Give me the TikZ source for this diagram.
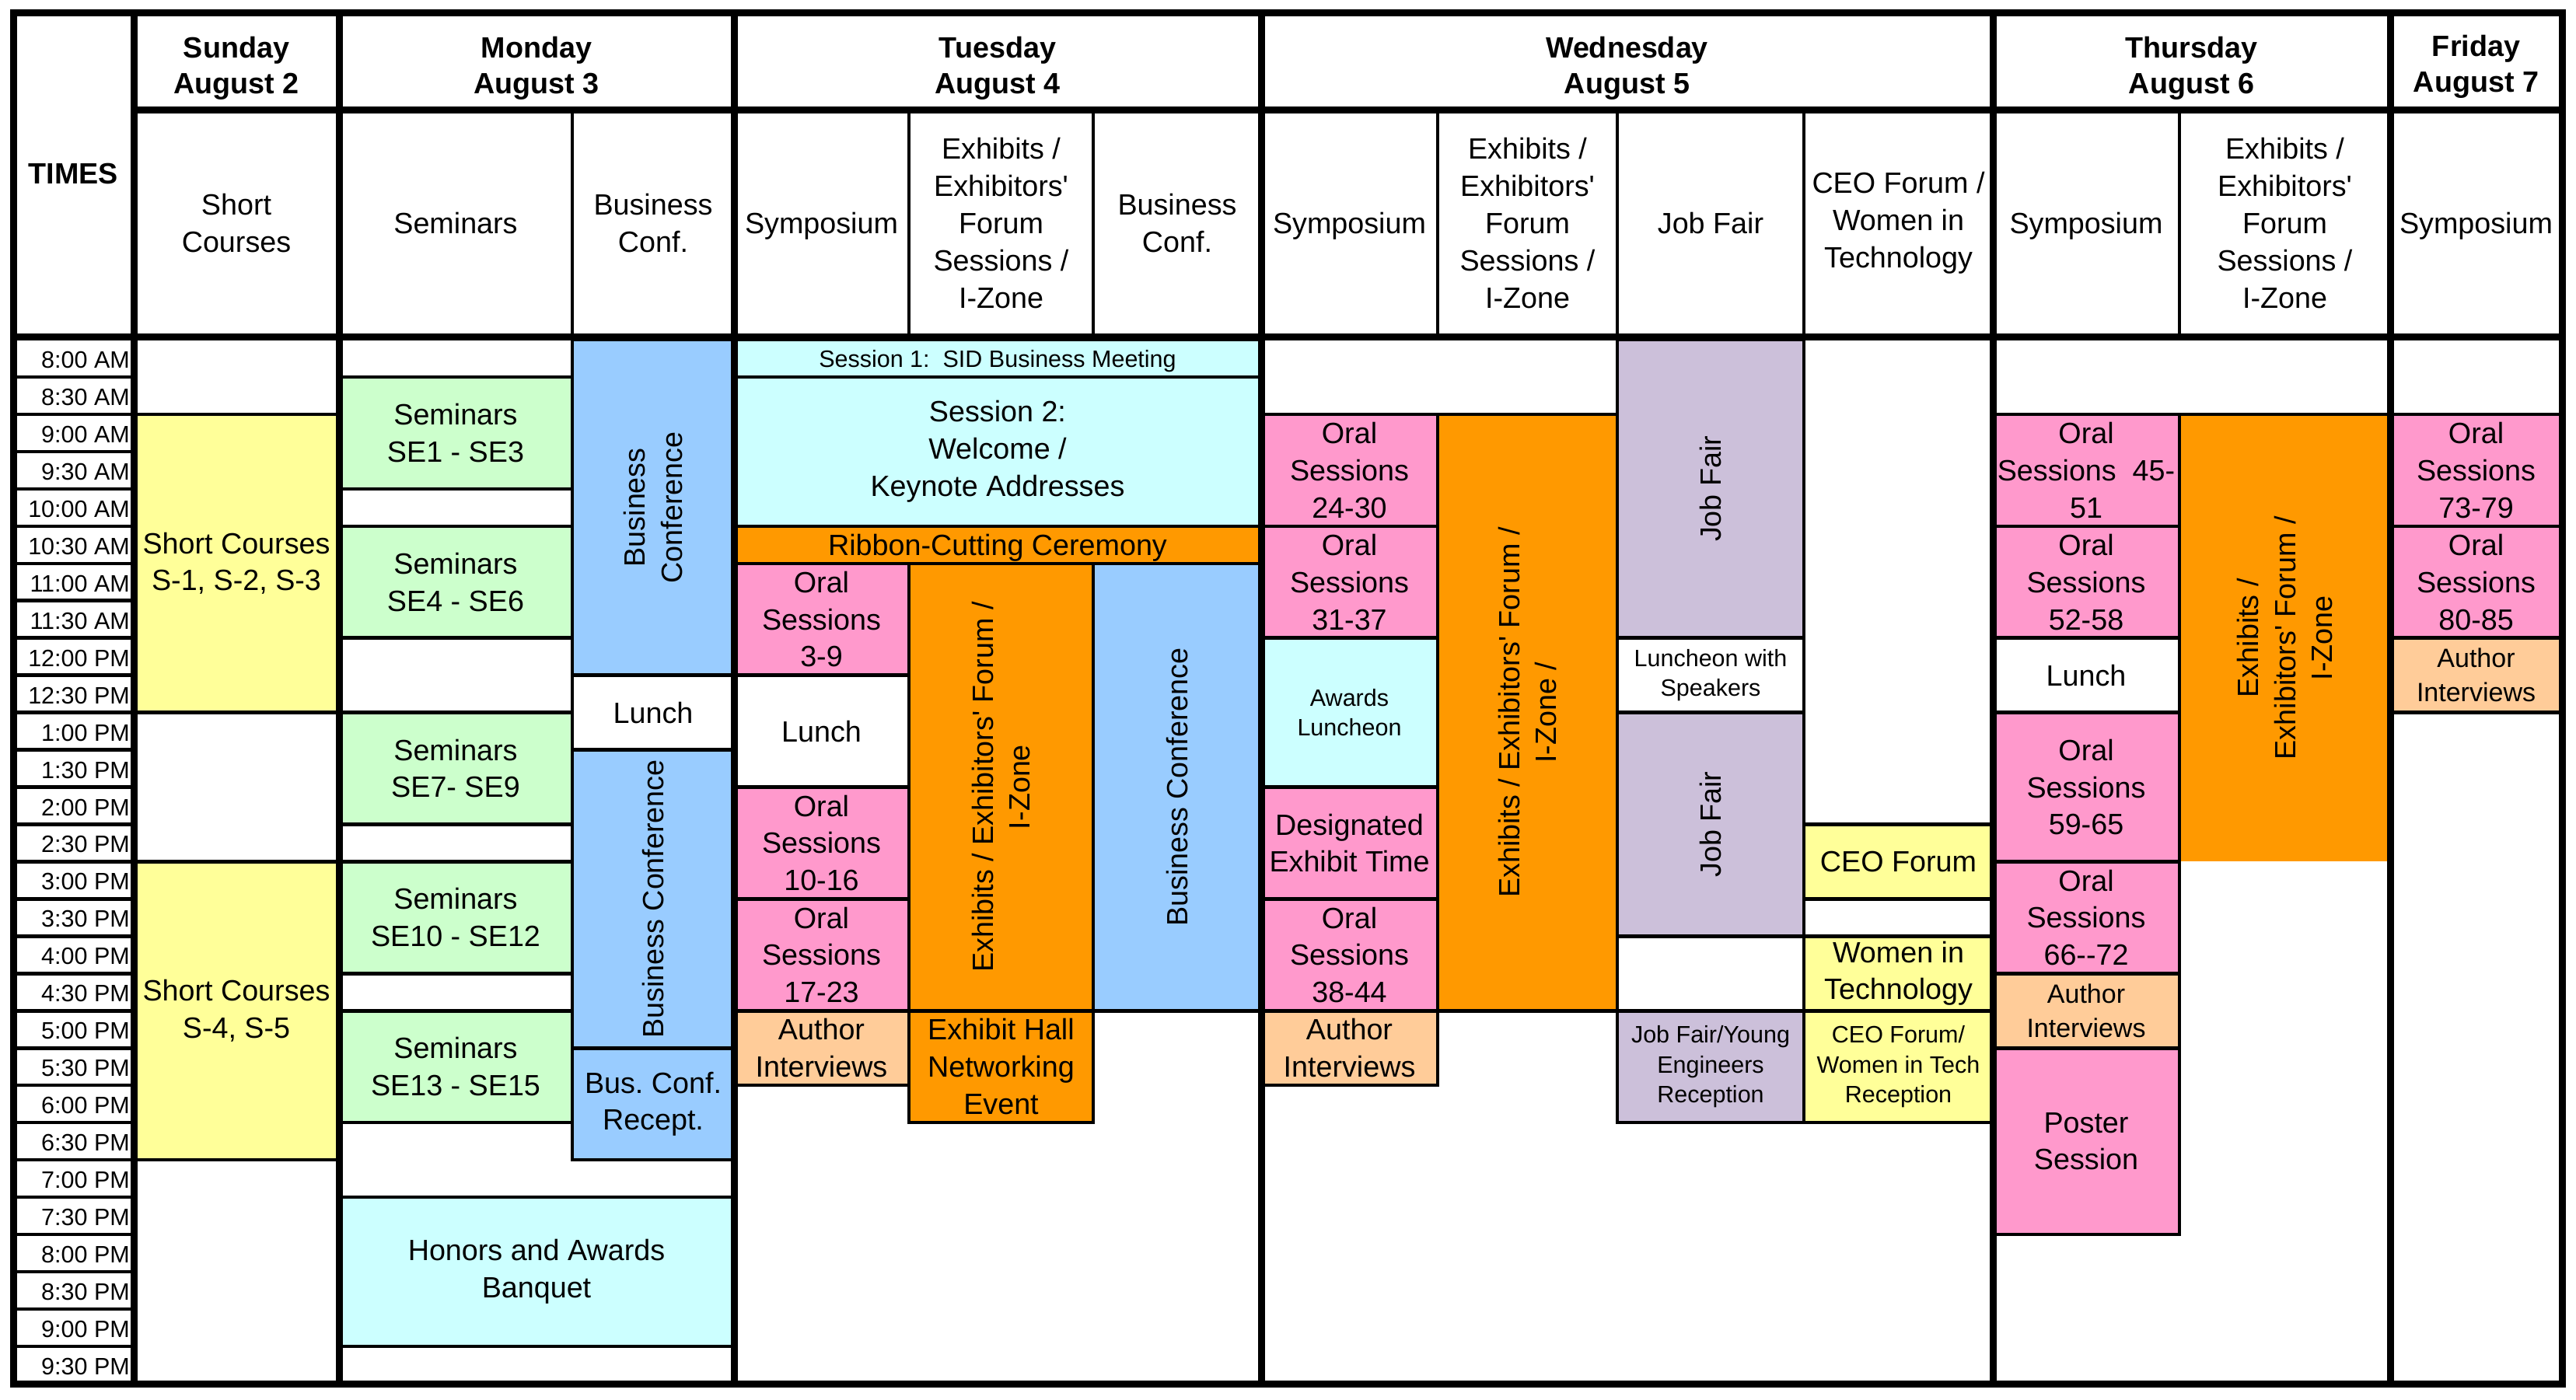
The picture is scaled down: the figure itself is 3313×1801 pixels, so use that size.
\documentclass[tikz,border=0pt]{standalone}
\usepackage{fontspec}
\setmainfont{Liberation Sans}[Ligatures=TeXOff]
\definecolor{cyel}{HTML}{FFFF99}
\definecolor{cgrn}{HTML}{CCFFCC}
\definecolor{cblu}{HTML}{99CCFF}
\definecolor{ccya}{HTML}{CCFFFF}
\definecolor{corg}{HTML}{FF9900}
\definecolor{cpnk}{HTML}{FF99CC}
\definecolor{cpch}{HTML}{FFCC99}
\definecolor{clav}{HTML}{CCC0DA}
\newcommand\fm{\fontsize{37.7}{47.8}\selectfont}
\newcommand\fsm{\fontsize{30.5}{38.7}\selectfont}
\newcommand\fau{\fontsize{34}{44}\selectfont}
\newcommand\ftm{\fontsize{30.5}{36}\selectfont}
\newcommand\fbd{\fontsize{37.7}{46}\selectfont\bfseries}
\newcommand\cellat[8]{%
  \pgfmathsetmacro\cellA{437+47.96*#4}%
  \pgfmathsetmacro\cellB{437+47.96*#5}%
  \pgfmathsetmacro\cellX{(#2+#3)/2}%
  \pgfmathsetmacro\cellY{(\cellA+\cellB)/2}%
  \pgfmathsetmacro\cellW{#3-#2}%
  \pgfmathsetmacro\cellH{\cellB-\cellA}%
  \node[cellbox, fill=#6, minimum width=\cellW pt, minimum height=\cellH pt, #7] (#1) at (\cellX,\cellY) {#8};%
}
\newcommand\rcellat[8]{%
  \pgfmathsetmacro\cellA{437+47.96*#4}%
  \pgfmathsetmacro\cellB{437+47.96*#5}%
  \pgfmathsetmacro\cellX{(#2+#3)/2}%
  \pgfmathsetmacro\cellY{(\cellA+\cellB)/2}%
  \pgfmathsetmacro\cellW{#3-#2}%
  \pgfmathsetmacro\cellH{\cellB-\cellA}%
  \node[cellbox, rotate=90, fill=#6, minimum width=\cellH pt, minimum height=\cellW pt, #7] (#1) at (\cellX,\cellY) {#8};%
}
\tikzset{
  cellbox/.style={draw=black, line width=4.5pt, rectangle, inner sep=0pt, outer sep=0pt, align=center, font=\fm},
  oneline/.style={text depth=0pt},
  thinline/.style={draw=black, line width=4.5pt},
  thickline/.style={draw=black, line width=9pt},
  hdr/.style={inner sep=0pt, align=center, font=\fm},
  dayhdr/.style={inner sep=0pt, align=center, font=\fbd},
  timelbl/.style={inner sep=0pt, anchor=east, font=\ftm}
}
\begin{document}
\begin{tikzpicture}[x=1pt,y=-1pt]
\useasboundingbox (0,0) rectangle (3313,1801);
\fill[white] (0,0) rectangle (3313,1801);
\frenchspacing
% ---------- Sunday
\cellat{sca}{172}{436}{2}{10}{cyel}{}{Short Courses\\S-1, S-2, S-3}
\cellat{scb}{172}{436}{14}{22}{cyel}{}{Short Courses\\S-4, S-5}
% ---------- Monday
\cellat{sea}{436}{736}{1}{4}{cgrn}{}{Seminars\\SE1 - SE3}
\cellat{seb}{436}{736}{5}{8}{cgrn}{}{Seminars\\SE4 - SE6}
\cellat{sec}{436}{736}{10}{13}{cgrn}{}{Seminars\\SE7- SE9}
\cellat{sed}{436}{736}{14}{17}{cgrn}{}{Seminars\\SE10 - SE12}
\cellat{see}{436}{736}{18}{21}{cgrn}{}{Seminars\\SE13 - SE15}
\rcellat{bca}{736}{944}{0}{9}{cblu}{}{Business\\Conference}
\cellat{mlunch}{736}{944}{9}{11}{white}{oneline}{Lunch}
\rcellat{bcb}{736}{944}{11}{19}{cblu}{oneline}{Business Conference}
\cellat{bcr}{736}{944}{19}{22}{cblu}{}{Bus. Conf.\\Recept.}
\cellat{hon}{436}{944}{23}{27}{ccya}{}{Honors and Awards\\Banquet}
% ---------- Tuesday
\cellat{sone}{944}{1622}{0}{1}{ccya}{font=\fsm, oneline}{Session 1:\ \ SID Business Meeting}
\cellat{stwo}{944}{1622}{1}{5}{ccya}{}{Session 2:\\Welcome /\\Keynote Addresses}
\cellat{rib}{944}{1622}{5}{6}{corg}{oneline}{Ribbon-Cutting Ceremony}
\cellat{oa}{944}{1169}{6}{9}{cpnk}{}{Oral\\Sessions\\3-9}
\cellat{tlunch}{944}{1169}{9}{12}{white}{oneline}{Lunch}
\cellat{ob}{944}{1169}{12}{15}{cpnk}{}{Oral\\Sessions\\10-16}
\cellat{oc}{944}{1169}{15}{18}{cpnk}{}{Oral\\Sessions\\17-23}
\cellat{tai}{944}{1169}{18}{20}{cpch}{}{Author\\Interviews}
\rcellat{tex}{1169}{1406}{6}{18}{corg}{}{Exhibits / Exhibitors' Forum /\\I-Zone}
\cellat{ehn}{1169}{1406}{18}{21}{corg}{}{Exhibit Hall\\Networking\\Event}
\rcellat{tbc}{1406}{1622}{6}{18}{cblu}{oneline}{Business Conference}
% ---------- Wednesday
\cellat{od}{1622}{1849}{2}{5}{cpnk}{}{Oral\\Sessions\\24-30}
\cellat{oe}{1622}{1849}{5}{8}{cpnk}{}{Oral\\Sessions\\31-37}
\cellat{awl}{1622}{1849}{8}{12}{ccya}{font=\fsm}{Awards\\Luncheon}
\cellat{det}{1622}{1849}{12}{15}{cpnk}{}{Designated\\Exhibit Time}
\cellat{of}{1622}{1849}{15}{18}{cpnk}{}{Oral\\Sessions\\38-44}
\cellat{wai}{1622}{1849}{18}{20}{cpch}{}{Author\\Interviews}
\rcellat{wex}{1849}{2080}{2}{18}{corg}{}{Exhibits / Exhibitors' Forum /\\I-Zone /}
\rcellat{jfa}{2080}{2320}{0}{8}{clav}{oneline}{Job Fair}
\cellat{lws}{2080}{2320}{8}{10}{white}{font=\fsm}{Luncheon with\\Speakers}
\rcellat{jfb}{2080}{2320}{10}{16}{clav}{oneline}{Job Fair}
\cellat{jfy}{2080}{2320}{18}{21}{clav}{font=\fsm}{Job Fair/Young\\Engineers\\Reception}
\cellat{ceo}{2320}{2563}{13}{15}{cyel}{oneline}{CEO Forum}
\cellat{wit}{2320}{2563}{16}{18}{cyel}{}{Women in\\Technology}
\cellat{ceor}{2320}{2563}{18}{21}{cyel}{font=\fsm}{CEO Forum/\\Women in Tech\\Reception}
% ---------- Thursday
\rcellat{hex}{2803}{3074}{2}{14}{corg}{draw=none}{Exhibits /\\Exhibitors' Forum /\\I-Zone}
\cellat{og}{2563}{2803}{2}{5}{cpnk}{}{Oral\\Sessions\ \ 45-\\51}
\cellat{oh}{2563}{2803}{5}{8}{cpnk}{}{Oral\\Sessions\\52-58}
\cellat{hlunch}{2563}{2803}{8}{10}{white}{oneline}{Lunch}
\cellat{oi}{2563}{2803}{10}{14}{cpnk}{}{Oral\\Sessions\\59-65}
\cellat{oj}{2563}{2803}{14}{17}{cpnk}{}{Oral\\Sessions\\66-\kern0pt-72}
\cellat{hai}{2563}{2803}{17}{19}{cpch}{font=\fau}{Author\\Interviews}
\cellat{pos}{2563}{2803}{19}{24}{cpnk}{}{Poster\\Session}
\pgfmathsetmacro\hexTop{437+47.96*2}
\draw[thinline] (2803,\hexTop) -- (3074,\hexTop);
% ---------- Friday
\cellat{ok}{3074}{3295}{2}{5}{cpnk}{}{Oral\\Sessions\\73-79}
\cellat{ol}{3074}{3295}{5}{8}{cpnk}{}{Oral\\Sessions\\80-85}
\cellat{fai}{3074}{3295}{8}{10}{cpch}{font=\fau}{Author\\Interviews}
% ---------- times column
\foreach \k in {1,...,27}{
  \pgfmathsetmacro\ty{437+47.96*\k}
  \draw[thinline] (17,\ty) -- (172,\ty);
}
\foreach \lbl [count=\i from 0] in {8:00 AM,8:30 AM,9:00 AM,9:30 AM,10:00 AM,10:30 AM,11:00 AM,11:30 AM,12:00 PM,12:30 PM,1:00 PM,1:30 PM,2:00 PM,2:30 PM,3:00 PM,3:30 PM,4:00 PM,4:30 PM,5:00 PM,5:30 PM,6:00 PM,6:30 PM,7:00 PM,7:30 PM,8:00 PM,8:30 PM,9:00 PM,9:30 PM}{
  \pgfmathsetmacro\ty{437+47.96*\i+24+2}
  \node[timelbl] (t\i) at (167,\ty) {\lbl};
}
% ---------- headers
\node[dayhdr] (times) at (94.5,224) {TIMES};
\node[dayhdr] (dsun) at (304,88) {Sunday\\August 2};
\node[dayhdr] (dmon) at (690,88) {Monday\\August 3};
\node[dayhdr] (dtue) at (1283,88) {Tuesday\\August 4};
\node[dayhdr] (dwed) at (2092.5,88) {Wednesday\\August 5};
\node[dayhdr] (dthu) at (2818.5,88) {Thursday\\August 6};
\node[dayhdr] (dfri) at (3184.5,86) {Friday\\August 7};
\node[hdr] (hsc) at (304,287) {Short\\Courses};
\node[hdr, oneline] (hsem) at (586,287) {Seminars};
\node[hdr] (hbc1) at (840,287) {Business\\Conf.};
\node[hdr, oneline] (hsy1) at (1056.5,287) {Symposium};
\node[hdr] (hex1) at (1287.5,287) {Exhibits /\\Exhibitors'\\Forum\\Sessions /\\I-Zone};
\node[hdr] (hbc2) at (1514,287) {Business\\Conf.};
\node[hdr, oneline] (hsy2) at (1735.5,287) {Symposium};
\node[hdr] (hex2) at (1964.5,287) {Exhibits /\\Exhibitors'\\Forum\\Sessions /\\I-Zone};
\node[hdr, oneline] (hjf) at (2200,287) {Job Fair};
\node[hdr] (hceo) at (2441.5,287) {CEO Forum /\\Women in\\Technology};
\node[hdr, oneline] (hsy3) at (2683,287) {Symposium};
\node[hdr] (hex3) at (2938.5,287) {Exhibits /\\Exhibitors'\\Forum\\Sessions /\\I-Zone};
\node[hdr, oneline] (hsy4) at (3184.5,287) {Symposium};
% ---------- grid lines
\foreach \x in {736,1169,1406,1849,2080,2320,2803}{
  \draw[thinline] (\x,141) -- (\x,433);
}
\draw[thickline] (172,141) -- (3295,141);
\draw[thickline] (17,433) -- (3295,433);
\foreach \x in {172,436,944,1622,2563,3074}{
  \draw[thickline] (\x,17) -- (\x,1780);
}
\draw[thickline] (17,17) rectangle (3295,1780);
\end{tikzpicture}
\end{document}
